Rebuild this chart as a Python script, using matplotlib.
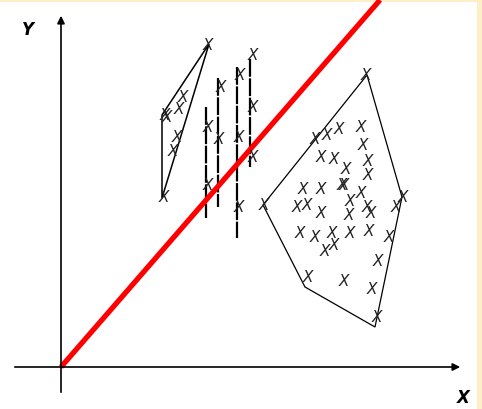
import matplotlib.pyplot as plt
from matplotlib.patches import Polygon, Rectangle

# everything is in picture pixels (y grows downwards)
left_hull = [(209, 44), (162, 115), (162, 198)]
left_x = [208, 165, 167, 183, 179, 177, 173, 164]
left_y = [45, 115, 118, 98, 109, 137, 151, 197]

bar_x = [206, 218, 237, 250]
bar_top = [107, 78, 67, 59]
bar_bottom = [218, 207, 238, 167]
bar_mark_x = [208, 208, 221, 219, 240, 239, 239, 253, 253, 253]
bar_mark_y = [127, 185, 87, 140, 75, 137, 208, 55, 107, 157]

right_hull = [(367, 75), (402, 197), (375, 327), (305, 287), (263, 205)]
right_x = [366, 315, 327, 339, 361, 363, 321, 334, 346, 368, 368, 303, 321, 342,
           344, 361, 403, 297, 307, 350, 321, 349, 367, 371, 396, 264, 300, 315,
           332, 350, 369, 389, 325, 334, 378, 308, 344, 372, 377]
right_y = [75, 140, 136, 130, 127, 146, 157, 159, 170, 162, 175, 190, 190, 186,
           185, 193, 197, 207, 206, 202, 213, 215, 208, 213, 207, 206, 233, 237,
           234, 234, 232, 237, 252, 246, 262, 278, 282, 289, 317]

origin = (61, 367)
red_end = (380, 0)

fig = plt.figure(figsize=(4.82, 4.09), dpi=100)
ax = fig.add_axes([0, 0, 1, 1])
ax.set_xlim(0, 482)
ax.set_ylim(409, 0)
ax.axis('off')

# pale frame on the top and right edge
ax.add_patch(Rectangle((0, 0), 482, 1.5, color='#fdf0c8', lw=0))
ax.add_patch(Rectangle((477, 0), 5, 409, color='#fdf0c8', lw=0))

# axes with arrows
ax.annotate('', xy=(61, 13), xytext=(61, 395),
            arrowprops=dict(arrowstyle='-|>', color='black', lw=1.2, mutation_scale=11))
ax.annotate('', xy=(463, 367), xytext=(12, 367),
            arrowprops=dict(arrowstyle='-|>', color='black', lw=1.2, mutation_scale=11))
ax.text(28, 30, 'Y', fontsize=12, fontweight='bold', style='italic', ha='center', va='center')
ax.text(463, 398, 'X', fontsize=12, fontweight='bold', style='italic', ha='center', va='center')

# clusters
ax.add_patch(Polygon(left_hull, closed=True, fill=False, ec='black', lw=1.1))
ax.add_patch(Polygon(right_hull, closed=True, fill=False, ec='black', lw=0.9))
for bx, t, b in zip(bar_x, bar_top, bar_bottom):
    ax.plot([bx, bx], [t, b], color='black', lw=1.6, dashes=(8, 0.7))

for xs, ys in [(left_x, left_y), (bar_mark_x, bar_mark_y), (right_x, right_y)]:
    for x, y in zip(xs, ys):
        ax.text(x, y, 'X', fontsize=11, style='italic', color='#222222',
                ha='center', va='center', fontweight='light')

# separating line
ax.plot([origin[0], red_end[0]], [origin[1], red_end[1]], color='#ff0000', lw=3.8,
        solid_capstyle='butt')

fig.savefig('out.png', dpi=100)
